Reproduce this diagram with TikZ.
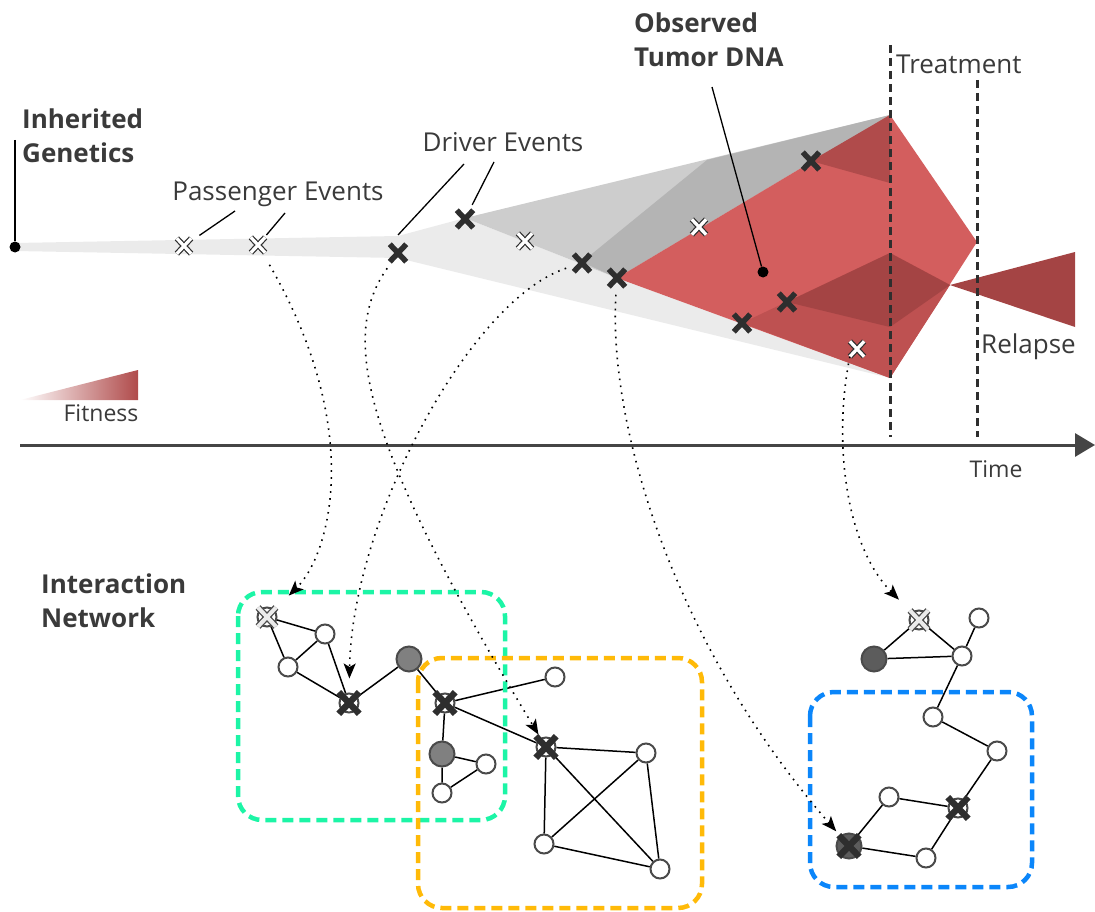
\documentclass[tikz,border=0pt]{standalone}
\usepackage{fontspec}
\setmainfont{Open Sans}
\usetikzlibrary{arrows.meta,shapes,backgrounds,calc}
\definecolor{ink}{HTML}{3A3A3A}
\definecolor{bandlight}{HTML}{EBEBEB}
\definecolor{bandmid}{HTML}{CDCDCD}
\definecolor{banddark}{HTML}{B4B4B4}
\definecolor{tumor}{HTML}{D35E5E}
\definecolor{tumortop}{HTML}{B04B4B}
\definecolor{tumormid}{HTML}{BE5151}
\definecolor{tumordeep}{HTML}{A44444}
\definecolor{markdark}{HTML}{2E2E2E}
\definecolor{rimgray}{HTML}{4A4A4A}
\definecolor{hubgray}{HTML}{808080}
\definecolor{hubdark}{HTML}{5C5C5C}
\definecolor{axisgray}{HTML}{454545}
\definecolor{boxgreen}{HTML}{1CF5A6}
\definecolor{boxorange}{HTML}{FFBA08}
\definecolor{boxblue}{HTML}{0B86FA}
\tikzset{
    txt/.style = {font=\fontsize{26}{34}\selectfont, text=ink, inner sep=0},
    smalltxt/.style = {txt, font=\fontsize{23}{30}\selectfont},
    headtxt/.style = {font=\fontsize{26}{34}\selectfont\bfseries, text=ink,
        inner sep=0, align=left},
    leader/.style = {draw, line width=1.3pt},
    blob/.style = {circle, fill=black, minimum size=11pt, inner sep=0},
    drivermark/.style = {cross out, draw=markdark, line width=5.5pt,
        minimum width=11pt, minimum height=12pt, inner sep=0},
    passmark/.style = {cross out, draw=white, line width=3.3pt,
        preaction={draw=markdark, line width=5.7pt},
        minimum width=11pt, minimum height=12pt, inner sep=0},
    lightmark/.style = {cross out, draw=black!8, line width=4pt,
        preaction={draw=rimgray, line width=6.6pt},
        minimum width=14pt, minimum height=15pt, inner sep=0},
    bigmark/.style = {minimum width=14pt, minimum height=15pt, line width=6.5pt},
    vertex/.style = {circle, draw=rimgray, line width=2pt, fill=white,
        minimum size=19pt, inner sep=0},
    hub/.style = {vertex, fill=hubgray, minimum size=25pt},
    link/.style = {line width=1.5pt},
    trace/.style = {line width=1.6pt, dash pattern=on 1.6pt off 5.4pt,
        -{Stealth[length=15pt,width=12pt,inset=3.5pt]}},
    module/.style = {draw=#1, line width=4.5pt, dash pattern=on 11pt off 6pt,
        rounded corners=24pt},
    epochline/.style = {draw=markdark, line width=3pt, dash pattern=on 8pt off 5pt},
    timeaxis/.style = {draw=axisgray, line width=3pt,
        -{Triangle[length=20pt,width=23pt]}}
}
\begin{document}
\begin{tikzpicture}[x=1pt,y=-1pt]
    \useasboundingbox (0,0) rectangle (1095,912);
    \fill[bandlight] (15,243) -- (398,236) -- (465,218) -- (617,278) -- (890,378) -- (398,258) -- (15,251) -- cycle;
    \fill[bandmid] (465,218) -- (890,115) -- (617,278) -- cycle;
    \fill[banddark] (582,262) -- (707,160) -- (890,115) -- (617,278) -- cycle;
    \fill[tumor] (617,278) -- (890,115) -- (977,242) -- (890,378) -- cycle;
    \fill[tumortop] (811,161) -- (890,115) -- (890,183) -- cycle;
    \fill[tumormid] (742,323) -- (890,253) -- (950,285) -- (890,378) -- cycle;
    \fill[tumordeep] (787,302) -- (890,253) -- (950,285) -- (890,327) -- cycle;
    \fill[tumordeep] (950,285) -- (1075,252) -- (1075,327) -- cycle;

    \coordinate (treat0) at (890,45);
    \coordinate (treat1) at (890,437);
    \coordinate (rel0) at (977,80);
    \coordinate (rel1) at (977,437);
    \draw[epochline] (treat0) -- (treat1);
    \draw[epochline] (rel0) -- (rel1);

    \node[blob] (root) at (15,247) {};
    \coordinate (rootlead) at (15,140);
    \draw[leader] (rootlead) -- (root);

    \node[passmark] (p1) at (184,246) {};
    \node[passmark] (p2) at (258,245) {};
    \node[drivermark] (d1) at (398,253) {};
    \node[drivermark] (d2) at (465,219) {};
    \node[passmark] (p3) at (525,241) {};
    \node[drivermark] (d3) at (582,263) {};
    \node[drivermark] (d4) at (617,278) {};
    \node[passmark] (p4) at (699,227) {};
    \node[drivermark] (d5) at (811,161) {};
    \node[drivermark] (d6) at (787,302) {};
    \node[drivermark] (d7) at (742,323) {};
    \node[passmark] (p5) at (857,349) {};
    \node[blob] (obs) at (763,272) {};

    \node[headtxt, anchor=west] (inheritlbl) at (22,136) {Inherited\\Genetics};
    \node[txt] (passlbl) at (278,194) {Passenger Events};
    \node[txt] (drivlbl) at (503,142) {Driver Events};
    \node[headtxt, anchor=west] (obslbl) at (634,40) {Observed\\Tumor DNA};
    \node[txt, anchor=west] (treatlbl) at (896,64) {Treatment};
    \node[txt, anchor=west] (relapselbl) at (981,347) {Relapse};
    \node[smalltxt] (fitlbl) at (101,413) {Fitness};
    \node[smalltxt] (timelbl) at (996,469) {Time};
    \node[headtxt, anchor=west] (netlbl) at (41,601) {Interaction\\Network};

    \coordinate (plead1) at (235,211);
    \coordinate (plead2) at (285,213);
    \coordinate (dlead1) at (464,164);
    \coordinate (dlead2) at (494,162);
    \coordinate (olead) at (712,87);
    \draw[leader, shorten >=10pt] (plead1) -- (p1);
    \draw[leader, shorten >=3pt] (plead2) -- (p2);
    \draw[leader] (dlead1) -- ([yshift=18pt]d1.center);
    \draw[leader, shorten >=6pt] (dlead2) -- (d2);
    \draw[leader] (olead) -- (obs);

    \coordinate (t0) at (20,445);
    \coordinate (t1) at (1095,445);
    \draw[timeaxis] (t0) -- (t1);
    \shade[left color=white, right color=tumortop] (20,400) -- (138,370) -- (138,400) -- cycle;

    \draw[module=boxgreen] (238,592) rectangle (505,820);
    \draw[module=boxorange] (418,658) rectangle (702,908);
    \draw[module=boxblue] (810,692) rectangle (1032,887);

    \node[vertex] (a1) at (267,617) {};
    \node[vertex] (a2) at (325,634) {};
    \node[vertex] (a3) at (288,667) {};
    \node[vertex] (a4) at (349,703) {};
    \node[hub] (a5) at (409,659) {};
    \node[vertex] (a6) at (445,703) {};
    \node[hub] (a7) at (442,754) {};
    \node[vertex] (a8) at (486,764) {};
    \node[vertex] (a9) at (442,793) {};
    \node[vertex] (b1) at (555,677) {};
    \node[vertex] (b2) at (546,747) {};
    \node[vertex] (b3) at (646,753) {};
    \node[vertex] (b4) at (544,844) {};
    \node[vertex] (b5) at (660,869) {};
    \node[vertex] (c1) at (919,620) {};
    \node[vertex] (c2) at (979,618) {};
    \node[hub, fill=hubdark] (c3) at (874,659) {};
    \node[vertex] (c4) at (962,656) {};
    \node[vertex] (c5) at (933,717) {};
    \node[vertex] (c6) at (997,751) {};
    \node[vertex] (c7) at (889,797) {};
    \node[vertex] (c8) at (958,808) {};
    \node[hub, fill=hubdark] (c9) at (849,846) {};
    \node[vertex] (c10) at (926,858) {};

    \node[lightmark] (a1x) at (a1) {};
    \node[drivermark, bigmark] (a4x) at (a4) {};
    \node[drivermark, bigmark] (a6x) at (a6) {};
    \node[drivermark, bigmark] (b2x) at (b2) {};
    \node[lightmark] (c1x) at (c1) {};
    \node[drivermark, bigmark] (c8x) at (c8) {};
    \node[drivermark, bigmark] (c9x) at (c9) {};

    \begin{scope}[on background layer]
        \draw[link] (a1) -- (a2) (a1) -- (a3) (a2) -- (a3) (a3) -- (a4) (a2) -- (a4)
            (a4) -- (a5) (a5) -- (a6) (a6) -- (a7) (a7) -- (a8) (a7) -- (a9) (a9) -- (a8)
            (a6) -- (b1) (a6) -- (b2);
        \draw[link] (b2) -- (b3) (b2) -- (b4) (b2) -- (b5) (b3) -- (b4) (b3) -- (b5) (b4) -- (b5);
        \draw[link] (c1) -- (c3) (c1) -- (c4) (c3) -- (c4) (c4) -- (c2) (c4) -- (c5)
            (c5) -- (c6) (c6) -- (c8) (c7) -- (c8) (c7) -- (c9) (c9) -- (c10) (c10) -- (c8);
    \end{scope}

    \draw[trace, shorten <=14pt, shorten >=20pt] (p2) .. controls (365,430) and (330,555) .. (a1);
    \draw[trace, shorten <=8pt, shorten >=4pt] (d1) .. controls (340,335) and (360,440) .. (b2);
    \draw[trace, shorten <=8pt, shorten >=14pt] (d3) .. controls (470,300) and (352,520) .. (a4);
    \draw[trace, shorten <=8pt, shorten >=6pt] (d4) .. controls (608,420) and (670,640) .. (c9);
    \draw[trace, shorten >=18pt] (p5.south west) .. controls (833,440) and (845,545) .. (c1);
\end{tikzpicture}
\end{document}
